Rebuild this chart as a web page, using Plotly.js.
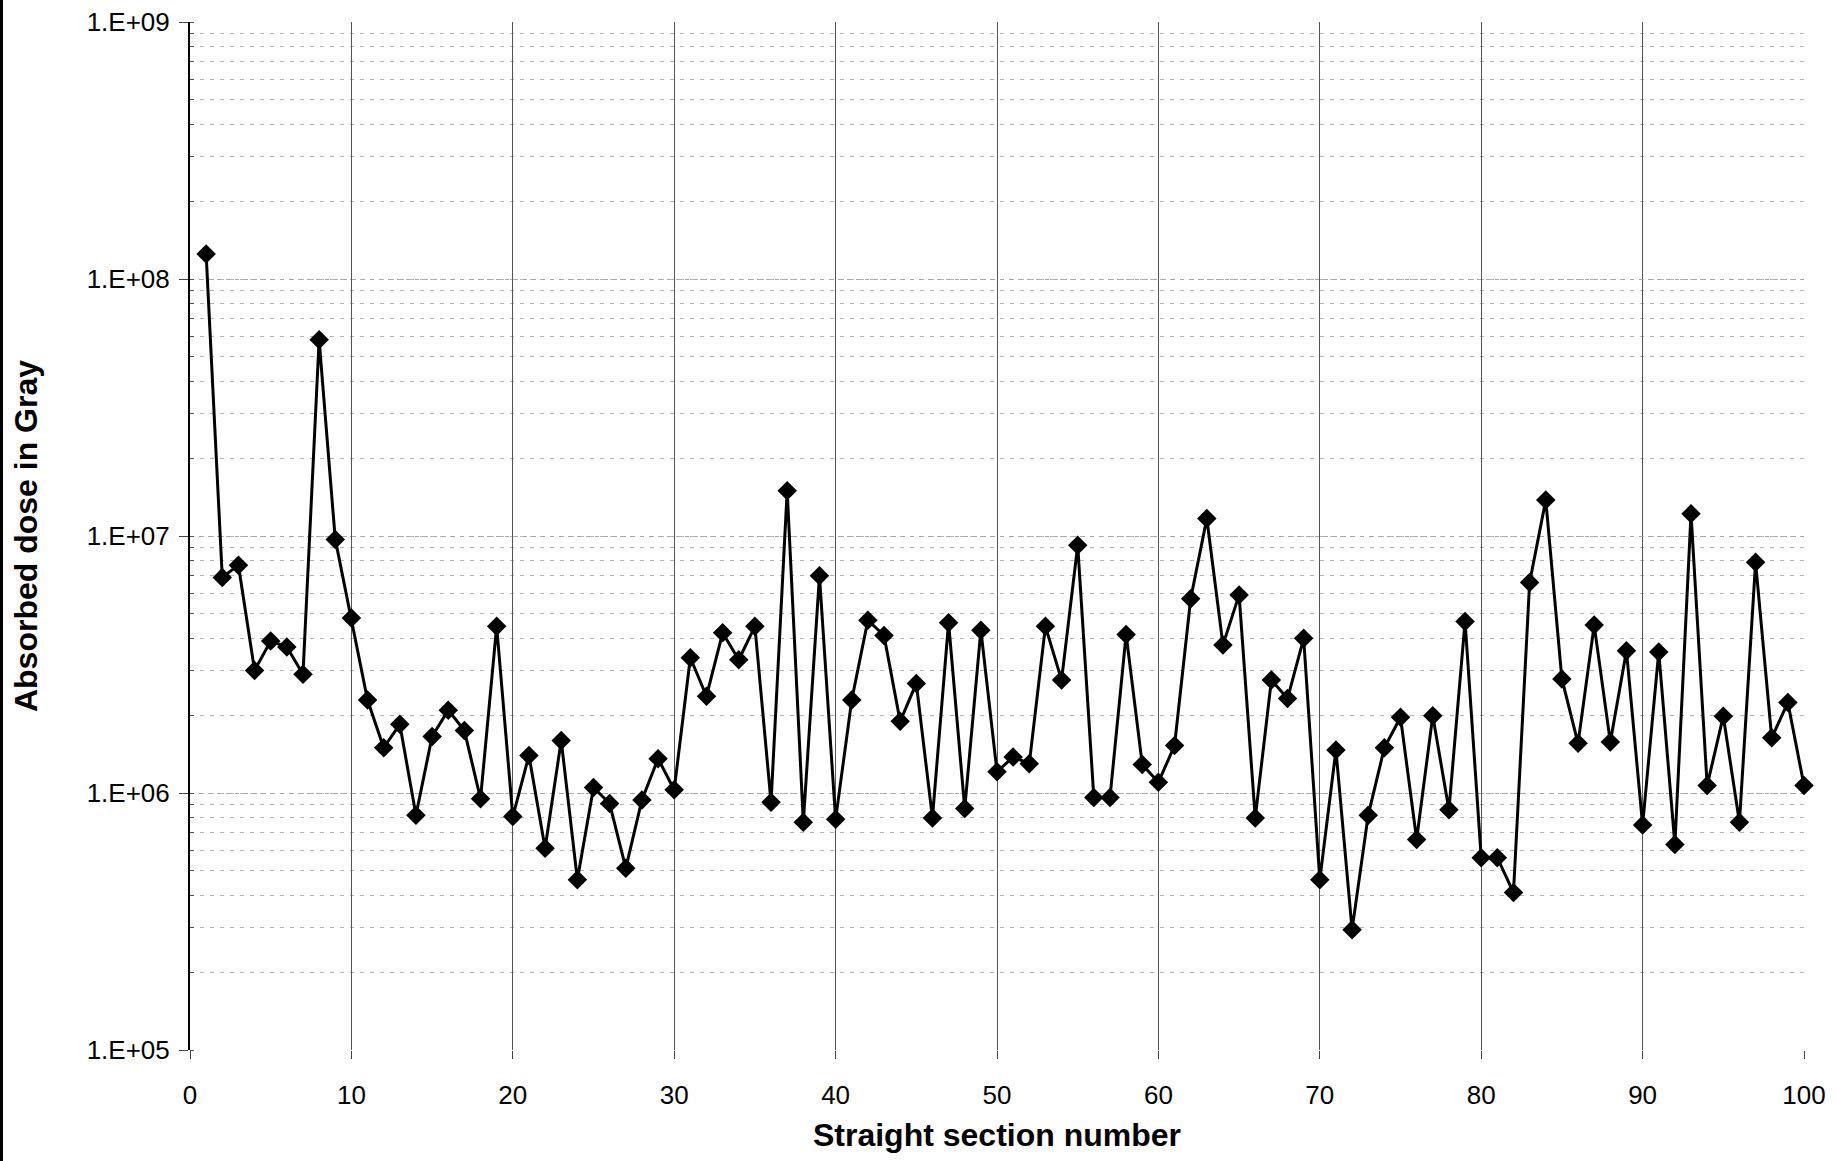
<!DOCTYPE html>
<html>
<head>
<meta charset="utf-8">
<script src="https://cdn.plot.ly/plotly-3.0.1.min.js"></script>
<style>
  html, body { margin: 0; padding: 0; background: #fff; }
  #chart { width: 1836px; height: 1161px; box-sizing: border-box; border-left: 3px solid #000; }
</style>
</head>
<body>
<div id="chart"></div>
<script>
const sectionNumber = [1,2,3,4,5,6,7,8,9,10,11,12,13,14,15,16,17,18,19,20,
  21,22,23,24,25,26,27,28,29,30,31,32,33,34,35,36,37,38,39,40,
  41,42,43,44,45,46,47,48,49,50,51,52,53,54,55,56,57,58,59,60,
  61,62,63,64,65,66,67,68,69,70,71,72,73,74,75,76,77,78,79,80,
  81,82,83,84,85,86,87,88,89,90,91,92,93,94,95,96,97,98,99,100];

const absorbedDoseGray = [
  1.25e8, 6.9e6, 7.7e6, 3.0e6, 3.9e6, 3.7e6, 2.9e6, 5.8e7, 9.7e6, 4.8e6,
  2.3e6, 1.5e6, 1.85e6, 8.2e5, 1.66e6, 2.1e6, 1.75e6, 9.5e5, 4.45e6, 8.1e5,
  1.4e6, 6.1e5, 1.6e6, 4.6e5, 1.05e6, 9.1e5, 5.1e5, 9.4e5, 1.36e6, 1.03e6,
  3.36e6, 2.38e6, 4.2e6, 3.3e6, 4.45e6, 9.2e5, 1.5e7, 7.7e5, 7.0e6, 7.9e5,
  2.3e6, 4.7e6, 4.1e6, 1.9e6, 2.67e6, 8.0e5, 4.6e6, 8.7e5, 4.3e6, 1.21e6,
  1.38e6, 1.3e6, 4.45e6, 2.75e6, 9.2e6, 9.6e5, 9.6e5, 4.14e6, 1.29e6, 1.1e6,
  1.53e6, 5.7e6, 1.17e7, 3.77e6, 5.9e6, 8.0e5, 2.75e6, 2.33e6, 4.0e6, 4.6e5,
  1.47e6, 2.94e5, 8.2e5, 1.5e6, 1.97e6, 6.6e5, 2.0e6, 8.6e5, 4.65e6, 5.6e5,
  5.6e5, 4.1e5, 6.6e6, 1.38e7, 2.78e6, 1.56e6, 4.5e6, 1.58e6, 3.58e6, 7.5e5,
  3.54e6, 6.3e5, 1.22e7, 1.07e6, 1.99e6, 7.7e5, 7.9e6, 1.64e6, 2.25e6, 1.07e6
];

const yTickVals = [1e5, 1e6, 1e7, 1e8, 1e9];
const yTickText = ['1.E+05', '1.E+06', '1.E+07', '1.E+08', '1.E+09'];
const xTickVals = [0, 10, 20, 30, 40, 50, 60, 70, 80, 90, 100];

const trace = {
  x: sectionNumber,
  y: absorbedDoseGray,
  type: 'scatter',
  mode: 'lines+markers',
  line: { color: '#000', width: 3 },
  marker: { symbol: 'diamond', size: 15, color: '#000' },
  cliponaxis: false,
  hoverinfo: 'x+y'
};

const font = 'Liberation Sans, Arial, sans-serif';

const layout = {
  width: 1836,
  height: 1161,
  margin: { l: 187, r: 35, t: 22, b: 111 },
  paper_bgcolor: '#fff',
  plot_bgcolor: '#fff',
  showlegend: false,
  font: { family: font, color: '#000', size: 26 },
  xaxis: {
    range: [0, 100],
    tickmode: 'array',
    tickvals: xTickVals,
    ticks: 'outside',
    ticklen: 8,
    tickcolor: '#444',
    ticklabelstandoff: 14,
    tickfont: { family: font, size: 26, color: '#000' },
    showgrid: true,
    gridcolor: '#555',
    gridwidth: 1,
    zeroline: false,
    showline: false,
    title: { text: '<b>Straight section number</b>', font: { family: font, size: 32, color: '#000' }, standoff: 14 }
  },
  yaxis: {
    type: 'log',
    range: [5, 9],
    tickmode: 'array',
    tickvals: yTickVals,
    ticktext: yTickText,
    ticks: 'outside',
    ticklen: 9,
    tickcolor: '#444',
    ticklabelstandoff: 4,
    tickfont: { family: font, size: 26, color: '#000' },
    showgrid: true,
    gridcolor: '#a8a8a8',
    griddash: '4px,5px',
    gridwidth: 1,
    minor: {
      tickmode: 'linear',
      dtick: 'D1',
      showgrid: true,
      gridcolor: '#b4b4b4',
      griddash: '4px,6px',
      gridwidth: 1,
      ticks: 'inside',
      ticklen: 4,
      tickcolor: '#555'
    },
    zeroline: false,
    showline: true,
    linecolor: '#000',
    linewidth: 2,
    title: { text: '<b>Absorbed dose in Gray</b>', font: { family: font, size: 32, color: '#000' }, standoff: 39 }
  }
};

Plotly.newPlot('chart', [trace], layout, { displayModeBar: false, staticPlot: true });
</script>
</body>
</html>
